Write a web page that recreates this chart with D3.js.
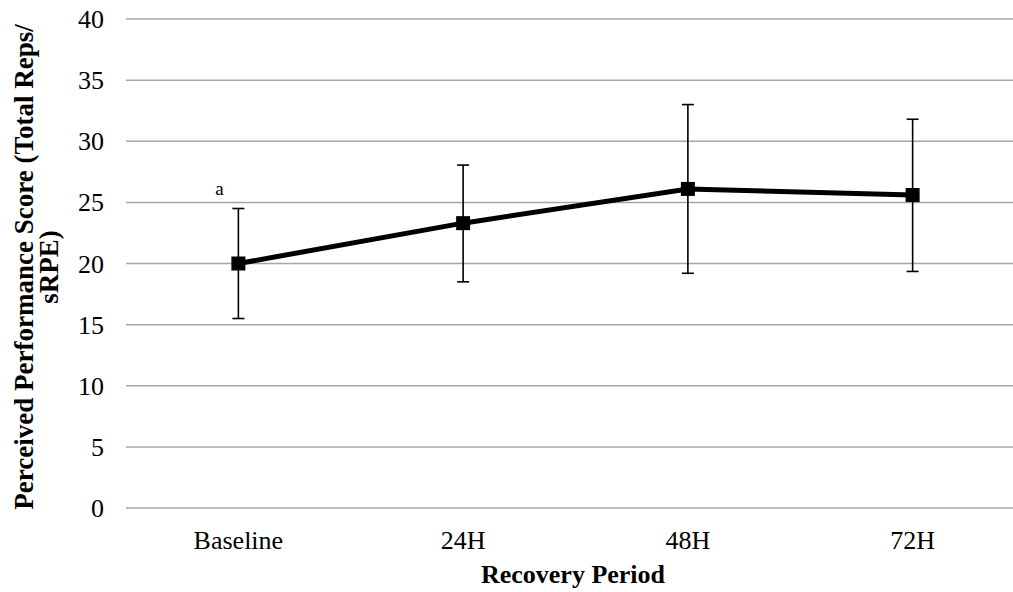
<!DOCTYPE html>
<meta charset="utf-8">
<style>
body, html { margin: 0; background: #fff; }
text { font-family: "Liberation Serif", "Times New Roman", serif; fill: #000; }
.grid line { stroke: #a6a6a6; stroke-width: 1.5px; }
.err line { stroke: #000; stroke-width: 1.6px; }
</style>
<svg></svg>
<script src="https://d3js.org/d3.v7.min.js"></script>
<script>

var periods = ['Baseline', '24H', '48H', '72H'];
var means = [20.0, 23.3, 26.1, 25.6];
var upper = [24.5, 28.05, 33.0, 31.8];
var lower = [15.5, 18.5, 19.2, 19.35];
var yTicks = [0, 5, 10, 15, 20, 25, 30, 35, 40];
var notes = ['a', '', '', ''];

var width = 1013, height = 592;

var svg = d3.select('svg')
  .attr('width', width)
  .attr('height', height);

var x = d3.scaleBand().domain(periods).range([126, 1025]);
var y = d3.scaleLinear().domain([0, 40]).range([508, 19]);
var cx = function (d) { return x(d) + x.bandwidth() / 2; };

// gridlines
svg.append('g').attr('class', 'grid')
  .selectAll('line')
  .data(yTicks)
  .enter().append('line')
  .attr('x1', 126).attr('x2', 1025)
  .attr('y1', function (d) { return y(d); })
  .attr('y2', function (d) { return y(d); });

// y tick labels
svg.append('g')
  .selectAll('text')
  .data(yTicks)
  .enter().append('text')
  .attr('x', 104)
  .attr('y', function (d) { return y(d); })
  .attr('dy', '0.35em')
  .attr('text-anchor', 'end')
  .style('font-size', '26px')
  .text(function (d) { return d; });

// category labels
svg.append('g')
  .selectAll('text')
  .data(periods)
  .enter().append('text')
  .attr('x', cx)
  .attr('y', 549)
  .attr('text-anchor', 'middle')
  .style('font-size', '26px')
  .text(function (d) { return d; });

// error bars
var err = svg.append('g').attr('class', 'err')
  .selectAll('g')
  .data(periods)
  .enter().append('g');
err.append('line')
  .attr('x1', cx).attr('x2', cx)
  .attr('y1', function (d, i) { return y(upper[i]); })
  .attr('y2', function (d, i) { return y(lower[i]); });
err.append('line')
  .attr('x1', function (d) { return cx(d) - 6; })
  .attr('x2', function (d) { return cx(d) + 6; })
  .attr('y1', function (d, i) { return y(upper[i]); })
  .attr('y2', function (d, i) { return y(upper[i]); });
err.append('line')
  .attr('x1', function (d) { return cx(d) - 6; })
  .attr('x2', function (d) { return cx(d) + 6; })
  .attr('y1', function (d, i) { return y(lower[i]); })
  .attr('y2', function (d, i) { return y(lower[i]); });

// mean line
var line = d3.line()
  .x(function (d, i) { return cx(periods[i]); })
  .y(function (d) { return y(d); });

svg.append('path')
  .datum(means)
  .attr('d', line)
  .attr('fill', 'none')
  .attr('stroke', '#000')
  .attr('stroke-width', 5);

svg.append('g')
  .selectAll('rect')
  .data(means)
  .enter().append('rect')
  .attr('x', function (d, i) { return cx(periods[i]) - 7; })
  .attr('y', function (d) { return y(d) - 7; })
  .attr('width', 14)
  .attr('height', 14)
  .attr('fill', '#000');

// significance letters
svg.append('g')
  .selectAll('text')
  .data(notes)
  .enter().append('text')
  .attr('x', function (d, i) { return cx(periods[i]) - 19; })
  .attr('y', function (d, i) { return y(upper[i]) - 13; })
  .attr('text-anchor', 'middle')
  .style('font-size', '19px')
  .text(function (d) { return d; });

// axis titles
svg.append('text')
  .attr('x', 573)
  .attr('y', 583)
  .attr('text-anchor', 'middle')
  .style('font-size', '26px')
  .style('font-weight', 'bold')
  .text('Recovery Period');

var yt = svg.append('text')
  .attr('transform', 'translate(33,267) rotate(-90)')
  .attr('text-anchor', 'middle')
  .style('font-size', '27px')
  .style('font-weight', 'bold');
yt.append('tspan').attr('x', 0).attr('y', 0).text('Perceived Performance Score (Total Reps/');
yt.append('tspan').attr('x', 0).attr('y', 25).text('sRPE)');

</script>
